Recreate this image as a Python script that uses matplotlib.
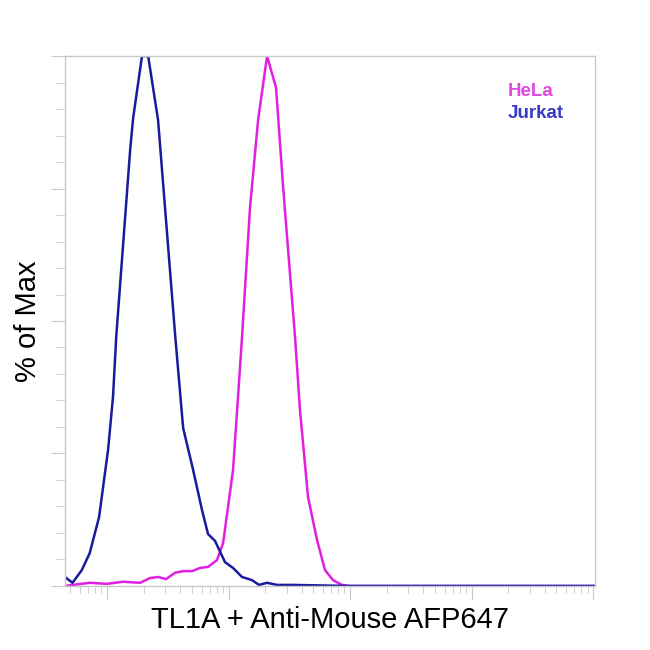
import numpy as np
import matplotlib.pyplot as plt
from matplotlib.ticker import LogLocator, MultipleLocator, NullFormatter

# fluorescence intensity (a.u.) and % of max
jurkat_x = [45, 52, 62, 72, 86, 102, 112, 119, 155, 164, 194, 218, 263, 363,
            423, 511, 605, 678, 774, 935, 1089, 1291, 1561, 1782, 2075, 2506,
            3394, 10000, 1.04e6]
jurkat_y = [1.7, 0.6, 3.0, 6.2, 13.0, 25.7, 35.7, 47.0, 82.3, 88.3, 100, 100,
            87.9, 47.5, 29.8, 21.9, 14.3, 9.8, 8.5, 4.5, 3.4, 1.7, 1.1, 0.2,
            0.6, 0.2, 0.2, 0, 0]

hela_x = [45, 72, 100, 135, 187, 226, 263, 306, 363, 423, 501, 582, 678, 804,
          902, 1089, 1197, 1291, 1503, 1750, 2075, 2460, 2812, 3524, 3873,
          4508, 5346, 6222, 7244, 8590, 10000, 1.04e6]
hela_y = [0, 0.6, 0.4, 0.8, 0.6, 1.5, 1.7, 1.3, 2.5, 2.8, 2.8, 3.4, 3.6, 4.9,
          8.1, 21.9, 35.7, 47.0, 71.5, 87.9, 100, 94.0, 75.3, 47.0, 33.2,
          16.8, 8.7, 3.0, 1.1, 0.2, 0, 0]

samples = ["HeLa", "Jurkat"]
line_colors = ["#e020e0", "#1a1a9c"]
text_colors = ["#e048e0", "#3a3ac8"]

plt.rcParams['font.family'] = ['Liberation Sans', 'DejaVu Sans']

fig = plt.figure(figsize=(6.5, 6.5), dpi=100)
ax = fig.add_axes([0.1, 0.0985, 0.8154, 0.8153])

ax.plot(hela_x, hela_y, color=line_colors[0], lw=1.8)
ax.plot(jurkat_x, jurkat_y, color=line_colors[1], lw=1.8)

ax.set_xscale("log")
ax.set_xlim(10 ** 1.654, 10 ** 6.016)
ax.set_ylim(0, 100)

grey = "#c8c8c8"
for s in ax.spines.values():
    s.set_color(grey)
    s.set_linewidth(1)

ax.xaxis.set_major_locator(LogLocator(base=10))
ax.xaxis.set_minor_locator(LogLocator(base=10, subs=np.arange(2, 10)))
ax.xaxis.set_major_formatter(NullFormatter())
ax.xaxis.set_minor_formatter(NullFormatter())
ax.yaxis.set_major_locator(MultipleLocator(25))
ax.yaxis.set_minor_locator(MultipleLocator(5))
ax.yaxis.set_major_formatter(NullFormatter())

ax.tick_params(axis="x", which="major", length=10, color=grey, direction="out")
ax.tick_params(axis="x", which="minor", length=5, color=grey, direction="out")
ax.tick_params(axis="y", which="major", length=10, color=grey, direction="out")
ax.tick_params(axis="y", which="minor", length=6.5, color=grey, direction="out")

ax.set_xlabel("TL1A + Anti-Mouse AFP647", fontsize=21, labelpad=1)
ax.set_ylabel("% of Max", fontsize=21, labelpad=3)

for i, name in enumerate(samples):
    ax.text(0.835, 0.934 - i * 0.042, name, transform=ax.transAxes,
            color=text_colors[i], fontsize=13.5, fontweight="bold",
            ha="left", va="center")

fig.savefig("out.png", dpi=100)
